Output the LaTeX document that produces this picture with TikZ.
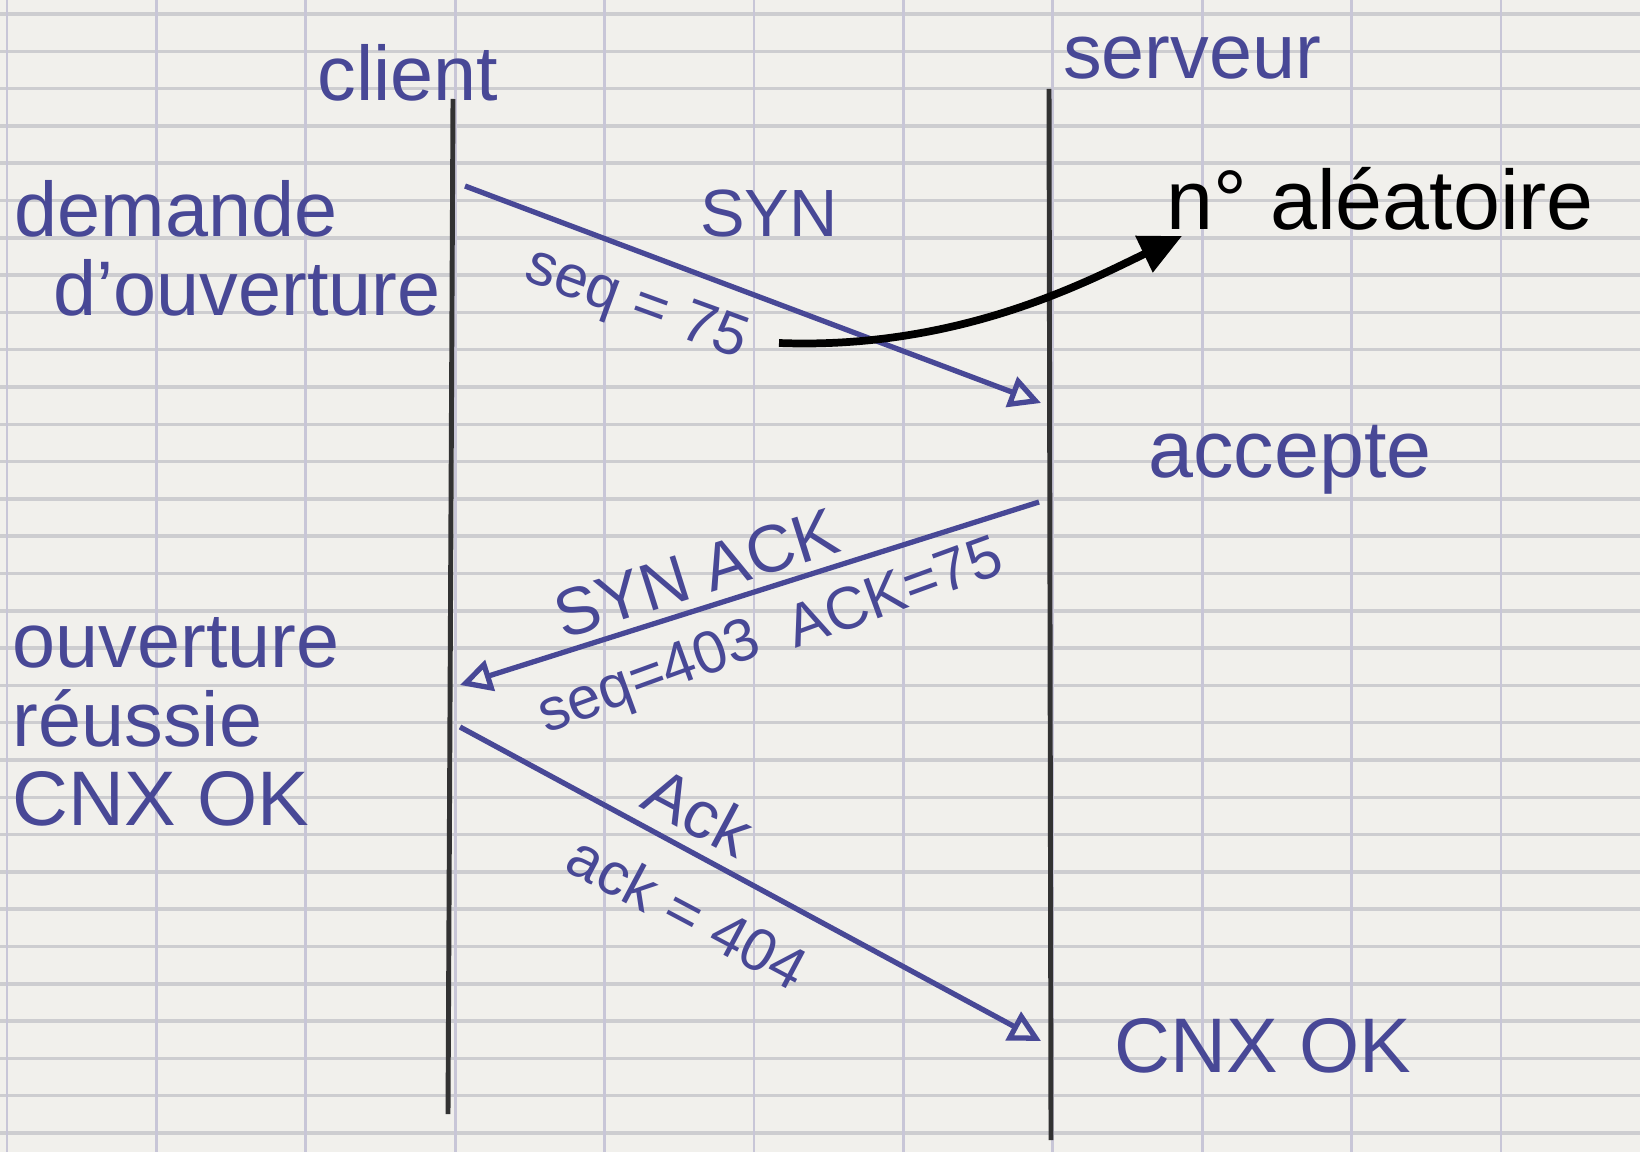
\documentclass[tikz,border=0pt]{standalone}
\usepackage{fontspec}
\setmainfont{Liberation Sans}
\usetikzlibrary{arrows.meta}
\definecolor{ink}{RGB}{72,72,150}
\definecolor{pencil}{RGB}{50,50,50}
\definecolor{paper}{RGB}{241,240,236}
\definecolor{rule}{RGB}{205,205,208}
\definecolor{rulev}{RGB}{200,198,215}

\begin{document}
\begin{tikzpicture}[x=0.01cm,y=-0.01cm,>={Triangle[open,length=9pt,width=9pt]},
  every node/.style={text=ink,inner sep=0pt},
  big/.style={font=\fontsize{22}{22.5}\selectfont},
  small/.style={font=\fontsize{17}{18}\selectfont},
  msg/.style={->,draw=ink,line width=1.5pt},
  life/.style={draw=pencil,line width=1.4pt}]
\useasboundingbox (0,0) rectangle (1640,1152);
% squared paper
\fill[paper] (0,0) rectangle (1640,1152);
\foreach \y in {14,51.3,...,1152} \draw[rule,line width=1pt] (0,\y) -- (1640,\y);
\foreach \x in {7,156.4,...,1640} \draw[rulev,line width=0.8pt] (\x,0) -- (\x,1152);

% lifelines
\coordinate (c0) at (453,99);
\coordinate (c1) at (448,1114);
\coordinate (s0) at (1049,89);
\coordinate (s1) at (1051,1140);
\path[life] (c0) edge (c1)
            (s0) edge (s1);
\node[big] (client) at (408,73) {client};
\node[big] (serveur) at (1192,58) {serveur};

% messages
\coordinate (syn0) at (465,186);
\coordinate (syn1) at (1041,403);
\coordinate (sa0) at (1039,502);
\coordinate (sa1) at (460,685);
\coordinate (ack0) at (460,727);
\coordinate (ack1) at (1041,1041);
\path (syn0) edge[msg] (syn1)
      (sa0) edge[msg] (sa1)
      (ack0) edge[msg] (ack1);

\node[small,font=\fontsize{19}{20}\selectfont] (syn) at (769,214) {SYN};
\node[small,rotate=-20] (seq1) at (636,306) {seq = 75};
\node[small,font=\fontsize{19}{20}\selectfont,rotate=17.5] (synack) at (696,573) {SYN ACK};
\node[small,rotate=20] (seq2) at (650,680) {seq=403};
\node[small,rotate=20] (ackn) at (894,591) {ACK=75};
\node[small,font=\fontsize{19}{20}\selectfont,rotate=-28] (ack) at (699,812) {Ack};
\node[small,rotate=-28] (ackno) at (688,912) {ack = 404};

% random number
\node[font=\fontsize{24}{26}\selectfont,text=black] (alea) at (1380,199) {n° aléatoire};
\coordinate (rnd0) at (779,343);
\coordinate (rnd1) at (1182,236);
\draw[black,line width=2.2pt,-{Triangle[length=12pt,width=11pt]}]
  (rnd0) .. controls (960,350) and (1090,280) .. (rnd1);

% states
\node[big,anchor=west,align=left] (demande) at (14,248) {demande\\\hspace{0.5em}d'ouverture};
\node[big,font=\fontsize{23}{24}\selectfont] (accepte) at (1290,460) {accepte};
\node[big,anchor=west,align=left] (reussie) at (12,722) {ouverture\\réussie\\CNX OK};
\node[big] (cnx) at (1263,1046) {CNX OK};
\end{tikzpicture}
\end{document}
